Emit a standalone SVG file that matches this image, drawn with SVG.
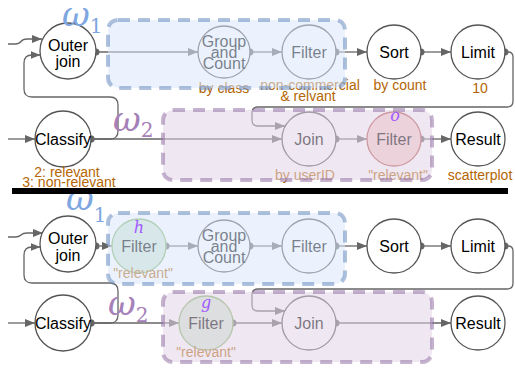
<svg xmlns="http://www.w3.org/2000/svg" width="515" height="368" viewBox="0 0 515 368">
<style>
.n circle{fill:#fff;stroke:#555;stroke-width:1.3}
.n text{font-family:"Liberation Sans",Arial,sans-serif;font-size:16px;text-anchor:middle;fill:#000}
.lbl{font-family:"Liberation Sans",Arial,sans-serif;font-size:14px;fill:#b46504;text-anchor:middle}
.e{fill:none;stroke:#666;stroke-width:1.3;marker-end:url(#ah)}
.s{marker-start:url(#dot)}
.boxB{fill:#dae8fc;fill-opacity:.55;stroke:#6c8ebf;stroke-opacity:.55;stroke-width:4;stroke-dasharray:12 8}
.boxP{fill:#e1d5e7;fill-opacity:.55;stroke:#9673a6;stroke-opacity:.55;stroke-width:4;stroke-dasharray:12 8}
.om{font-family:"DejaVu Serif",serif;font-style:italic;font-size:34px}
.sub{font-family:"DejaVu Serif",serif;font-style:normal;font-size:20px}
.blue{fill:#7ea6e0}
.purp{fill:#a680b8}
.var{font-family:"DejaVu Serif",serif;font-style:italic;font-size:16px;fill:#a259ff;text-anchor:middle}
.red circle{fill:#f8cecc;stroke:#b85450}
.green circle{fill:#d5e8d4;stroke:#82b366}
</style>
<defs>
<marker id="ah" markerUnits="userSpaceOnUse" viewBox="0 0 10 8" refX="10" refY="4" markerWidth="10" markerHeight="8" orient="auto"><path d="M0,0 L10,4 L0,8 z" fill="#666"/></marker>
<marker id="dot" markerUnits="userSpaceOnUse" viewBox="-4 -4 8 8" refX="0" refY="0" markerWidth="8" markerHeight="8"><circle r="3.5" fill="#666"/></marker>
</defs>

<g id="connectors">
<!-- top -->
<path class="e" d="M8,44 L15,44 Q19,44 21,41.5 Q23,39 27,39 L42,39"/>
<path class="e s" d="M91,139 L110,139 Q118,139 118,131 L118,105 Q118,97 110,97 L32,97 Q24,97 24,89 L24,63 Q24,55 32,55 L40.5,55"/>
<path class="e s" d="M91,139 L282,139"/>
<path class="e" d="M8,139 L35,139"/>
<path class="e s" d="M96,52 L198,52"/>
<path class="e s" d="M250,52 L282,52"/>
<path class="e s" d="M336,52 L367,52"/>
<path class="e s" d="M421,52 L451,52"/>
<path class="e s" d="M505,52 L508,52 Q513,52 513,57 L513,101 Q513,107 507,107 L258,107 Q252,107 252,113 L252,120 Q252,126 258,126 L285,126"/>
<path class="e s" d="M336,139 L367,139"/>
<path class="e s" d="M421,139 L451,139"/>
<!-- bottom -->
<path class="e" d="M8,237 L15,237 Q19,237 21,235 Q23,233 27,233 L43,233"/>
<path class="e s" d="M91,323 L110,323 Q118,323 118,315 L118,291 Q118,283 110,283 L32,283 Q24,283 24,275 L24,255 Q24,247 32,247 L40.5,247"/>
<path class="e s" d="M91,323 L179,323"/>
<path class="e" d="M8,323 L35,323"/>
<path class="e s" d="M96,246 L112,246"/>
<path class="e s" d="M166,246 L198,246"/>
<path class="e s" d="M250,246 L282,246"/>
<path class="e s" d="M336,246 L367,246"/>
<path class="e s" d="M421,246 L451,246"/>
<path class="e s" d="M505,246 L508,246 Q513,246 513,251 L513,283 Q513,289 507,289 L258,289 Q252,289 252,295 L252,305 Q252,311 258,311 L285,311"/>
<path class="e s" d="M233,323 L282,323"/>
<path class="e s" d="M336,323 L451,323"/>
</g>

<!-- top half nodes -->
<g id="t-outer-join" class="n"><circle cx="68" cy="51" r="28"/><text x="68" y="51">Outer</text><text x="68" y="67">join</text></g>
<g id="t-group-count" class="n"><circle cx="224" cy="52" r="26"/><text x="224" y="47">Group</text><text x="224" y="58">and</text><text x="224" y="69">Count</text></g>
<g id="t-filter1" class="n"><circle cx="309" cy="52" r="27"/><text x="309" y="57.5">Filter</text></g>
<g id="t-sort" class="n"><circle cx="394" cy="52" r="27"/><text x="394" y="57.5">Sort</text></g>
<g id="t-limit" class="n"><circle cx="478" cy="52" r="27"/><text x="478" y="57.5">Limit</text></g>
<g id="t-classify" class="n"><circle cx="63" cy="139" r="28"/><text x="63" y="144.5">Classify</text></g>
<g id="t-join" class="n"><circle cx="309" cy="139" r="27"/><text x="309" y="144.5">Join</text></g>
<g id="t-filter2" class="n red"><circle cx="394" cy="139" r="27"/><text x="394" y="144.5">Filter</text></g>
<g id="t-result" class="n"><circle cx="478" cy="139" r="27"/><text x="478" y="144.5">Result</text></g>

<g id="t-labels">
<text class="lbl" x="224" y="93">by class</text>
<text class="lbl" x="310" y="90">non-commercial</text>
<text class="lbl" x="308" y="101">&amp; relvant</text>
<text class="lbl" x="400" y="90">by count</text>
<text class="lbl" x="480" y="93">10</text>
<text class="lbl" x="67" y="177">2: relevant</text>
<text class="lbl" x="69" y="187">3: non-relevant</text>
<text class="lbl" x="305" y="180">by userID</text>
<text class="lbl" x="398" y="180">"relevant"</text>
<text class="lbl" x="480" y="180">scatterplot</text>
</g>

<!-- bottom half nodes -->
<g id="b-outer-join" class="n"><circle cx="68" cy="244" r="28"/><text x="68" y="244">Outer</text><text x="68" y="261">join</text></g>
<g id="b-filter-h" class="n green"><circle cx="139" cy="246" r="27"/><text x="139" y="251.5">Filter</text></g>
<g id="b-group-count" class="n"><circle cx="224" cy="246" r="26"/><text x="224" y="241">Group</text><text x="224" y="252">and</text><text x="224" y="263">Count</text></g>
<g id="b-filter1" class="n"><circle cx="309" cy="246" r="27"/><text x="309" y="251.5">Filter</text></g>
<g id="b-sort" class="n"><circle cx="394" cy="246" r="27"/><text x="394" y="251.5">Sort</text></g>
<g id="b-limit" class="n"><circle cx="478" cy="246" r="27"/><text x="478" y="251.5">Limit</text></g>
<g id="b-classify" class="n"><circle cx="63" cy="323" r="28"/><text x="63" y="328.5">Classify</text></g>
<g id="b-filter-g" class="n green"><circle cx="206" cy="323" r="27"/><text x="206" y="328.5">Filter</text></g>
<g id="b-join" class="n"><circle cx="309" cy="323" r="27"/><text x="309" y="328.5">Join</text></g>
<g id="b-result" class="n"><circle cx="478" cy="323" r="27"/><text x="478" y="328.5">Result</text></g>

<g id="b-labels">
<text class="lbl" x="143" y="278">"relevant"</text>
<text class="lbl" x="206" y="357">"relevant"</text>
</g>

<!-- group boxes -->
<g id="boxes">
<rect class="boxB" x="108" y="20" width="237" height="68" rx="10"/>
<rect class="boxP" x="163" y="110" width="269" height="70" rx="10"/>
<rect class="boxB" x="108" y="213" width="237" height="71" rx="10"/>
<rect class="boxP" x="163" y="292" width="269" height="70" rx="10"/>
</g>

<g id="omegas">
<text class="om blue" x="62" y="26">ω<tspan class="sub" dx="0" dy="7">1</tspan></text>
<text class="om purp" x="113" y="131">ω<tspan class="sub" dy="6">2</tspan></text>
<text class="om blue" x="66" y="210">ω<tspan class="sub" dy="12">1</tspan></text>
<text class="om purp" x="108" y="315">ω<tspan class="sub" dy="7">2</tspan></text>
</g>

<g id="vars">
<text class="var" x="395" y="121">o</text>
<text class="var" x="139" y="233">h</text>
<text class="var" x="206" y="308">g</text>
</g>

<rect id="separator" x="12" y="188" width="496" height="6" fill="#000"/>
</svg>
